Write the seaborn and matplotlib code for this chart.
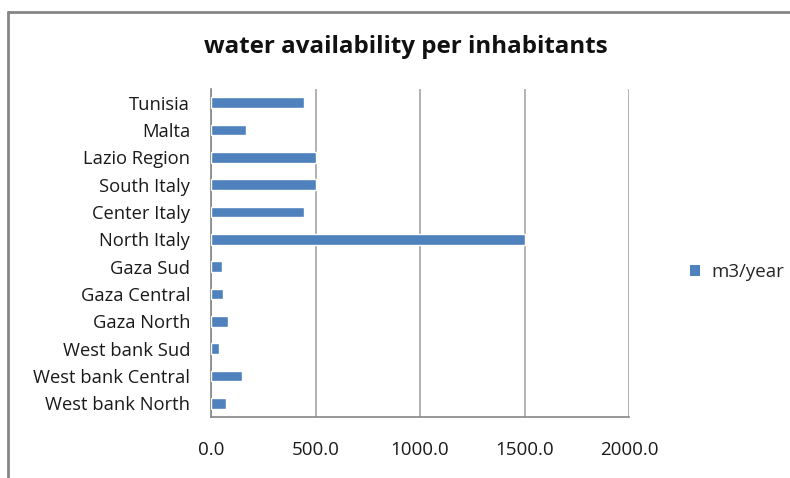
import matplotlib
matplotlib.use("Agg")
import matplotlib.pyplot as plt
import seaborn as sns
import pandas as pd
import numpy as np
from matplotlib.lines import Line2D
from matplotlib.patches import Patch

# Water availability per inhabitant (m3/year), listed top to bottom
regions = ["Tunisia", "Malta", "Lazio Region", "South Italy", "Center Italy",
           "North Italy", "Gaza Sud", "Gaza Central", "Gaza North",
           "West bank Sud", "West bank Central", "West bank North"]
m3_per_year = [447, 168, 500, 500, 447, 1500, 53, 58, 81, 38, 149, 72]
x_ticks = [0, 500, 1000, 1500, 2000]
series_name = "m3/year"
title = "water availability per inhabitants"

df = pd.DataFrame({"region": regions, "value": m3_per_year})

sns.set_style("white")
plt.rcParams["font.family"] = ["Open Sans", "DejaVu Sans"]

W, H = 790, 478
fig = plt.figure(figsize=(W / 100, H / 100), dpi=100)
ax = fig.add_axes([211 / W, 1 - 417 / H, (629 - 211) / W, (417 - 89) / H])

bar_color = "#4F81BD"
sns.barplot(data=df, x="value", y="region", orient="h", color=bar_color,
            width=0.4, saturation=1, ax=ax, zorder=3)

ax.set_xlim(0, 2000)
ax.set_ylim(len(regions) - 0.5, -0.5)
ax.set_xticks(x_ticks)
ax.set_xticklabels([f"{v:.1f}" for v in x_ticks])
ax.set_xlabel("")
ax.set_ylabel("")

# vertical gridlines
ax.grid(axis="x", color="#A6A6A6", linewidth=1.2, zorder=0)
ax.grid(axis="y", visible=False)

for s in ["top", "right"]:
    ax.spines[s].set_visible(False)
for s in ["left", "bottom"]:
    ax.spines[s].set_color("#868686")
    ax.spines[s].set_linewidth(1.2)

# category ticks sit between bars
ax.set_yticks(np.arange(-0.5, len(regions)), minor=True)
ax.tick_params(axis="y", which="major", length=0, pad=15, labelsize=13.2,
               labelcolor="#1a1a1a")
ax.tick_params(axis="y", which="minor", length=5, width=1.2, color="#868686",
               direction="out")
ax.tick_params(axis="x", which="major", length=5, width=1.2, color="#868686",
               direction="out", pad=12, labelsize=13.5, labelcolor="#1a1a1a")

fig.text(406 / W, 1 - 47 / H, title, ha="center", va="center",
         fontsize=17.4, fontweight="bold", color="#111111")

handle = Patch(facecolor=bar_color, edgecolor="none")
fig.legend([handle], [series_name], loc="center left",
           bbox_to_anchor=(690 / W, 1 - 272 / H), frameon=False,
           handlelength=0.55, handleheight=0.55, handletextpad=0.6,
           fontsize=13.5, borderaxespad=0, borderpad=0)

# chart-area border (top and left edges)
fig.add_artist(Line2D([8 / W, 1.0], [1 - 12 / H, 1 - 12 / H],
                      transform=fig.transFigure, color="#868686", linewidth=2))
fig.add_artist(Line2D([8 / W, 8 / W], [1 - 12 / H, 0.0],
                      transform=fig.transFigure, color="#868686", linewidth=2))

fig.savefig("out.png", dpi=100, facecolor="white")
